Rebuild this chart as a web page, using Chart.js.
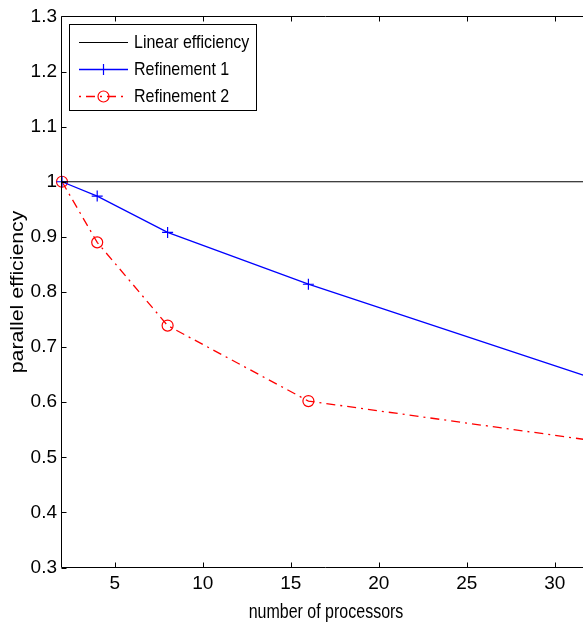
<!DOCTYPE html>
<html>
<head>
<meta charset="utf-8">
<script src="https://cdn.jsdelivr.net/npm/chart.js@4/dist/chart.umd.min.js"></script>
<style>
  html, body { margin: 0; padding: 0; background: #fff; overflow: hidden; }
  #wrap { width: 600px; height: 629px; }
</style>
</head>
<body>
<div id="wrap"><canvas id="c" width="600" height="629"></canvas></div>
<script>
// ---- data ----
const procCounts   = [2, 4, 8, 16, 32];
const linearEff    = [1, 1, 1, 1, 1];
const refinement1  = [1.0, 0.974, 0.908, 0.814, 0.645];
const refinement2  = [1.0, 0.890, 0.739, 0.602, 0.531];
const seriesNames  = ['Linear efficiency', 'Refinement 1', 'Refinement 2'];
const seriesColors = ['#000000', '#0000ff', '#ff0000'];
const xTickValues  = [5, 10, 15, 20, 25, 30];
const yTickValues  = [0.3, 0.4, 0.5, 0.6, 0.7, 0.8, 0.9, 1.0, 1.1, 1.2, 1.3];
const xTitle = 'number of processors';
const yTitle = 'parallel efficiency';

const toPts = (ys) => procCounts.map((x, i) => ({ x: x, y: ys[i] }));
const TICK_FONT = { family: "'Liberation Sans Narrow', 'Liberation Sans', Arial, sans-serif", size: 19 };

const frameAndDecor = {
  id: 'frameAndDecor',
  afterDatasetsDraw(chart) {
    const ctx = chart.ctx;
    const a = chart.chartArea;
    const xs = chart.scales.x, ys = chart.scales.y;
    const L = Math.round(a.left) - 0.5, R = Math.round(a.right) - 0.5;
    const T = Math.round(a.top) + 0.5, B = Math.round(a.bottom) - 0.5;
    ctx.save();
    ctx.strokeStyle = '#000';
    ctx.lineWidth = 1;
    ctx.beginPath();
    ctx.rect(L, T, R - L, B - T);
    ctx.stroke();
    // inward ticks on all four sides
    const tl = 5;
    ctx.beginPath();
    xTickValues.forEach(v => {
      const px = Math.round(xs.getPixelForValue(v)) + 0.5;
      ctx.moveTo(px, B); ctx.lineTo(px, B - tl);
      ctx.moveTo(px, T); ctx.lineTo(px, T + tl);
    });
    yTickValues.forEach(v => {
      const py = Math.round(ys.getPixelForValue(v)) + 0.5;
      ctx.moveTo(L, py); ctx.lineTo(L + tl, py);
      ctx.moveTo(R, py); ctx.lineTo(R - tl, py);
    });
    ctx.stroke();

    // axis titles
    ctx.fillStyle = '#000';
    ctx.font = "16px 'Liberation Sans', Arial, sans-serif";
    ctx.textAlign = 'center';
    ctx.textBaseline = 'alphabetic';
    ctx.save();
    ctx.translate((a.left + a.right) / 2, 618);
    ctx.scale(1, 1.22);
    ctx.fillText(xTitle, 0, 0);
    ctx.restore();

    ctx.save();
    ctx.font = "18px 'Liberation Sans', Arial, sans-serif";
    ctx.translate(23, (a.top + a.bottom) / 2);
    ctx.rotate(-Math.PI / 2);
    ctx.scale(1.18, 1);
    ctx.fillText(yTitle, 0, 0);
    ctx.restore();

    // legend box
    const bx = 69.5, by = 24.5, bw = 187, bh = 86;
    ctx.fillStyle = '#fff';
    ctx.fillRect(bx, by, bw, bh);
    ctx.strokeStyle = '#000';
    ctx.lineWidth = 1;
    ctx.strokeRect(bx, by, bw, bh);
    const rowsY = [42, 69, 96];
    const baseY = [48, 75, 102];
    const x0 = 79, x1 = 128, xm = (x0 + x1) / 2;
    chart.data.datasets.forEach((ds, i) => {
      const yy = rowsY[i];
      const col = seriesColors[i];
      ctx.save();
      ctx.strokeStyle = col;
      ctx.fillStyle = 'rgba(0,0,0,0)';
      ctx.lineWidth = ds.borderWidth;
      if (ds.borderDash && ds.borderDash.length) {
        ctx.setLineDash(ds.borderDash);
        ctx.lineDashOffset = ds.borderDash[0] + ds.borderDash[1];
      }
      ctx.beginPath();
      ctx.moveTo(x0, yy + 0.5); ctx.lineTo(x1, yy + 0.5);
      ctx.stroke();
      ctx.setLineDash([]);
      if (ds.pointRadius > 0) {
        ctx.strokeStyle = col;
        ctx.lineWidth = ds.pointBorderWidth;
        Chart.helpers.drawPoint(ctx, {
          pointStyle: ds.pointStyle, radius: ds.pointRadius, rotation: 0,
          borderWidth: ds.pointBorderWidth
        }, xm, yy + 0.5);
      }
      ctx.restore();
      ctx.save();
      ctx.fillStyle = '#000';
      ctx.font = "16px 'Liberation Sans', Arial, sans-serif";
      ctx.textAlign = 'left';
      ctx.textBaseline = 'alphabetic';
      ctx.translate(134, baseY[i]);
      ctx.scale(1, 1.2);
      ctx.fillText(ds.label, 0, 0);
      ctx.restore();
    });
    ctx.restore();
  }
};

new Chart(document.getElementById('c'), {
  type: 'line',
  data: {
    datasets: [
      {
        label: seriesNames[0], data: toPts(linearEff),
        borderColor: seriesColors[0], backgroundColor: seriesColors[0], borderWidth: 1.1,
        pointRadius: 0, tension: 0, clip: false
      },
      {
        label: seriesNames[1], data: toPts(refinement1),
        borderColor: seriesColors[1], backgroundColor: 'rgba(0,0,0,0)', borderWidth: 1.3,
        pointStyle: 'cross', pointRadius: 5.5, pointBorderWidth: 1.2,
        pointBorderColor: seriesColors[1], pointBackgroundColor: 'rgba(0,0,0,0)',
        tension: 0, clip: false
      },
      {
        label: seriesNames[2], data: toPts(refinement2),
        borderColor: seriesColors[2], backgroundColor: 'rgba(0,0,0,0)', borderWidth: 1.3,
        borderDash: [9, 5, 2, 5],
        pointStyle: 'circle', pointRadius: 5.5, pointBorderWidth: 1.2,
        pointBorderColor: seriesColors[2], pointBackgroundColor: 'rgba(0,0,0,0)',
        tension: 0, clip: false
      }
    ]
  },
  options: {
    responsive: false,
    animation: false,
    devicePixelRatio: 1,
    layout: { padding: { top: 14, right: 10, left: 0, bottom: 0 } },
    plugins: { legend: { display: false }, tooltip: { enabled: false } },
    elements: { point: { hoverRadius: 5 } },
    scales: {
      x: {
        type: 'linear', min: 2, max: 32,
        afterBuildTicks: (s) => { s.ticks = xTickValues.map(v => ({ value: v })); },
        afterFit: (s) => { s.height = 61.5; },
        grid: { display: false, drawTicks: false },
        border: { display: false },
        ticks: { font: TICK_FONT, color: '#000', padding: 5, maxRotation: 0, autoSkip: false }
      },
      y: {
        type: 'linear', min: 0.3, max: 1.3,
        afterBuildTicks: (s) => { s.ticks = yTickValues.map(v => ({ value: v })); },
        afterFit: (s) => { s.width = 62; },
        grid: { display: false, drawTicks: false },
        border: { display: false },
        ticks: {
          font: TICK_FONT, color: '#000', padding: 5, autoSkip: false,
          callback: (v) => (Math.abs(v - 1) < 1e-9 ? '1' : Number(v).toFixed(1))
        }
      }
    }
  },
  plugins: [frameAndDecor]
});
</script>
</body>
</html>
